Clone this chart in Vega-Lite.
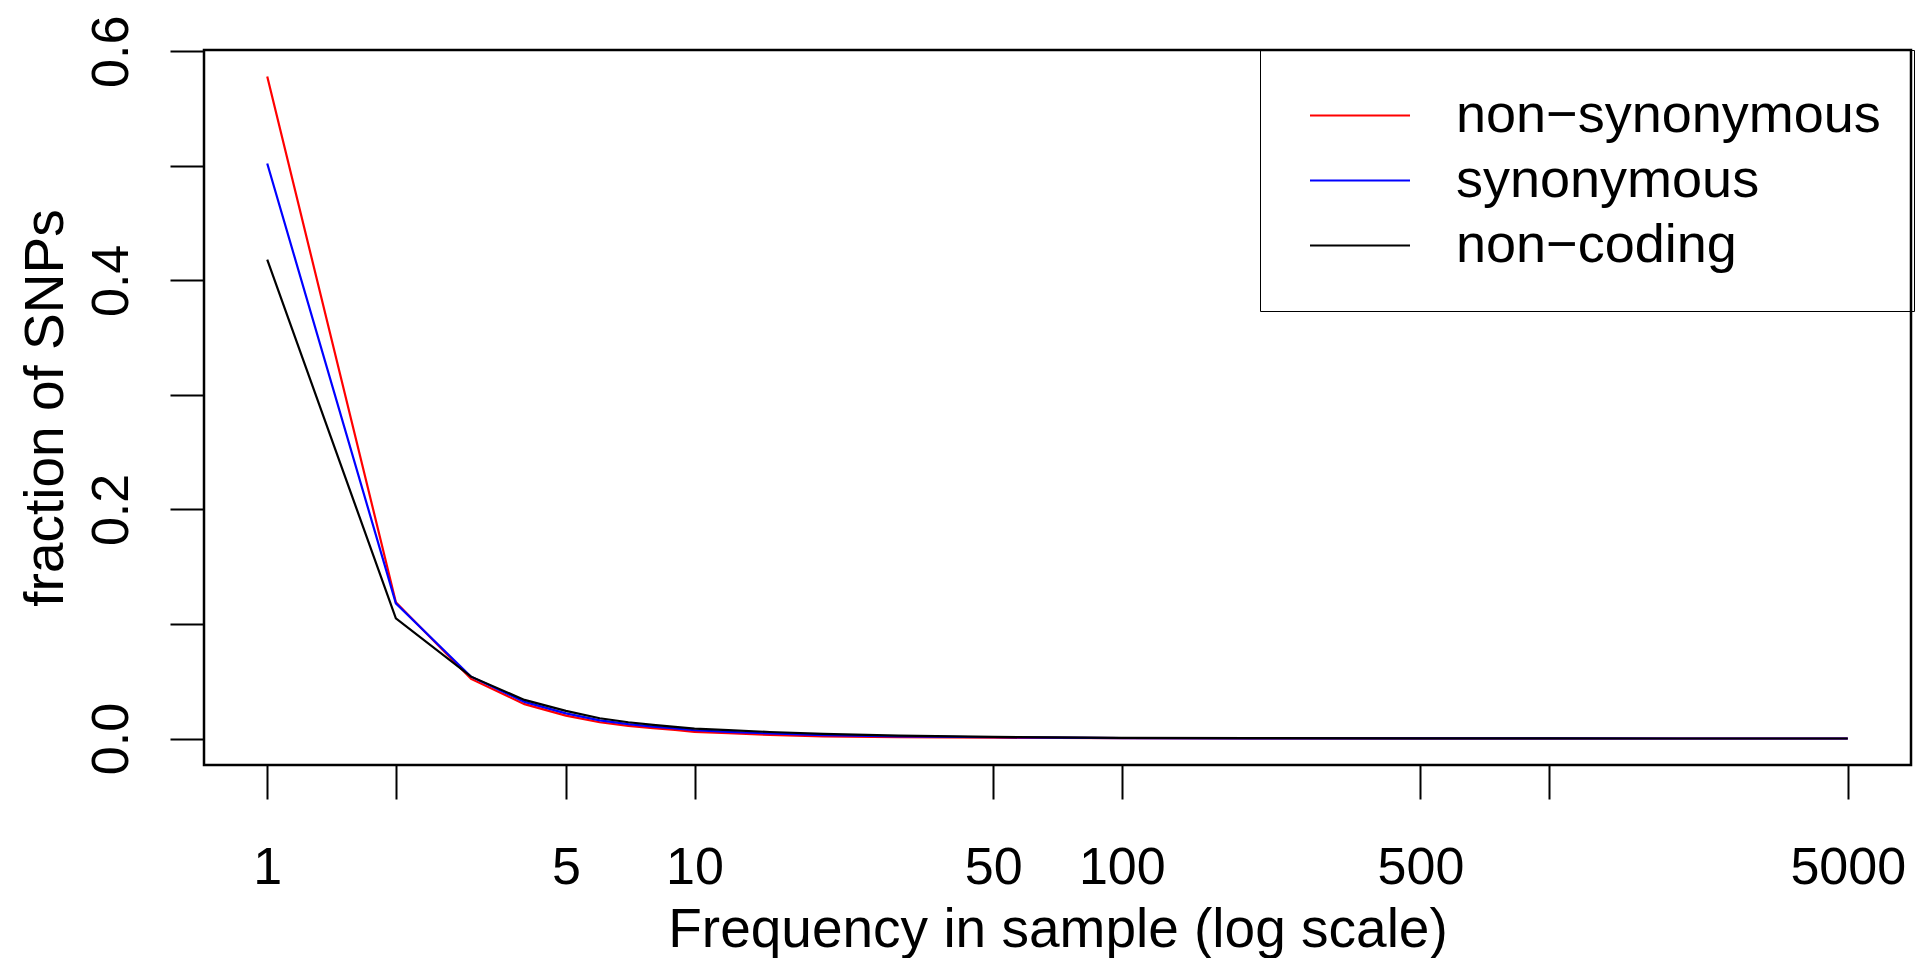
{
  "$schema": "https://vega.github.io/schema/vega-lite/v6.json",
  "autosize": {"type": "none"},
  "width": 1707,
  "height": 715,
  "padding": {"left": 204, "top": 50, "right": 8, "bottom": 193},
  "background": "white",
  "config": {
    "font": "Liberation Sans",
    "view": {"stroke": "black", "strokeWidth": 2.5},
    "axis": {"grid": false, "domain": false, "tickColor": "black", "tickWidth": 2, "tickSize": 34, "labelColor": "black", "titleColor": "black", "labelFont": "Liberation Sans", "titleFont": "Liberation Sans", "titleFontWeight": "normal"}
  },
  "data": {"values": [
    {"freq": 1, "type": "non−synonymous", "frac": 0.578},
    {"freq": 2, "type": "non−synonymous", "frac": 0.119},
    {"freq": 3, "type": "non−synonymous", "frac": 0.052},
    {"freq": 4, "type": "non−synonymous", "frac": 0.030},
    {"freq": 5, "type": "non−synonymous", "frac": 0.020},
    {"freq": 6, "type": "non−synonymous", "frac": 0.0142},
    {"freq": 7, "type": "non−synonymous", "frac": 0.011},
    {"freq": 8, "type": "non−synonymous", "frac": 0.009},
    {"freq": 9, "type": "non−synonymous", "frac": 0.0075},
    {"freq": 10, "type": "non−synonymous", "frac": 0.0058},
    {"freq": 12, "type": "non−synonymous", "frac": 0.0046},
    {"freq": 15, "type": "non−synonymous", "frac": 0.0032},
    {"freq": 20, "type": "non−synonymous", "frac": 0.0019},
    {"freq": 30, "type": "non−synonymous", "frac": 0.0012},
    {"freq": 50, "type": "non−synonymous", "frac": 0.0007},
    {"freq": 70, "type": "non−synonymous", "frac": 0.0005},
    {"freq": 100, "type": "non−synonymous", "frac": 0.0003},
    {"freq": 200, "type": "non−synonymous", "frac": 0.0001},
    {"freq": 500, "type": "non−synonymous", "frac": 0.00005},
    {"freq": 1000, "type": "non−synonymous", "frac": 0.00003},
    {"freq": 2000, "type": "non−synonymous", "frac": 0.00001},
    {"freq": 5000, "type": "non−synonymous", "frac": 0},
    {"freq": 1, "type": "synonymous", "frac": 0.502},
    {"freq": 2, "type": "synonymous", "frac": 0.118},
    {"freq": 3, "type": "synonymous", "frac": 0.054},
    {"freq": 4, "type": "synonymous", "frac": 0.032},
    {"freq": 5, "type": "synonymous", "frac": 0.022},
    {"freq": 6, "type": "synonymous", "frac": 0.0158},
    {"freq": 7, "type": "synonymous", "frac": 0.0126},
    {"freq": 8, "type": "synonymous", "frac": 0.0104},
    {"freq": 9, "type": "synonymous", "frac": 0.0088},
    {"freq": 10, "type": "synonymous", "frac": 0.0072},
    {"freq": 12, "type": "synonymous", "frac": 0.0058},
    {"freq": 15, "type": "synonymous", "frac": 0.0044},
    {"freq": 20, "type": "synonymous", "frac": 0.003},
    {"freq": 30, "type": "synonymous", "frac": 0.0019},
    {"freq": 50, "type": "synonymous", "frac": 0.0011},
    {"freq": 70, "type": "synonymous", "frac": 0.0007},
    {"freq": 100, "type": "synonymous", "frac": 0.0004},
    {"freq": 200, "type": "synonymous", "frac": 0.0002},
    {"freq": 500, "type": "synonymous", "frac": 0.0001},
    {"freq": 1000, "type": "synonymous", "frac": 0.00005},
    {"freq": 2000, "type": "synonymous", "frac": 0.00003},
    {"freq": 5000, "type": "synonymous", "frac": 0},
    {"freq": 1, "type": "non−coding", "frac": 0.418},
    {"freq": 2, "type": "non−coding", "frac": 0.105},
    {"freq": 3, "type": "non−coding", "frac": 0.054},
    {"freq": 4, "type": "non−coding", "frac": 0.0337},
    {"freq": 5, "type": "non−coding", "frac": 0.0241},
    {"freq": 6, "type": "non−coding", "frac": 0.0177},
    {"freq": 7, "type": "non−coding", "frac": 0.0142},
    {"freq": 8, "type": "non−coding", "frac": 0.0119},
    {"freq": 9, "type": "non−coding", "frac": 0.0101},
    {"freq": 10, "type": "non−coding", "frac": 0.0086},
    {"freq": 12, "type": "non−coding", "frac": 0.0073},
    {"freq": 15, "type": "non−coding", "frac": 0.0057},
    {"freq": 20, "type": "non−coding", "frac": 0.004},
    {"freq": 30, "type": "non−coding", "frac": 0.0026},
    {"freq": 50, "type": "non−coding", "frac": 0.0015},
    {"freq": 70, "type": "non−coding", "frac": 0.001},
    {"freq": 100, "type": "non−coding", "frac": 0.0006},
    {"freq": 200, "type": "non−coding", "frac": 0.0003},
    {"freq": 500, "type": "non−coding", "frac": 0.0001},
    {"freq": 1000, "type": "non−coding", "frac": 0.00005},
    {"freq": 2000, "type": "non−coding", "frac": 0.00003},
    {"freq": 5000, "type": "non−coding", "frac": 0}
  ]},
  "encoding": {
    "x": {
      "field": "freq", "type": "quantitative",
      "scale": {"type": "log", "domain": [0.7112, 7030.8], "nice": false, "zero": false},
      "axis": {
        "values": [1, 2, 5, 10, 50, 100, 500, 1000, 5000],
        "labelExpr": "datum.value == 2 || datum.value == 1000 ? '' : format(datum.value, 'd')",
        "labelFontSize": 52, "labelBaseline": "alphabetic", "labelPadding": 84, "labelFlush": false, "labelOverlap": false,
        "title": "Frequency in sample (log scale)", "titleFontSize": 55,
        "titleX": 853.5, "titleY": 181, "titleBaseline": "alphabetic", "titleAlign": "center"
      }
    },
    "y": {
      "field": "frac", "type": "quantitative",
      "scale": {"domain": [-0.02312, 0.60112], "nice": false, "zero": false},
      "axis": {
        "values": [0, 0.1, 0.2, 0.3, 0.4, 0.5, 0.6],
        "labelExpr": "round(datum.value * 10) % 2 == 0 ? format(datum.value, '.1f') : ''",
        "labelFontSize": 52, "labelAngle": -90, "labelAlign": "center", "labelBaseline": "alphabetic", "labelPadding": 43, "labelFlush": false, "labelOverlap": false,
        "title": "fraction of SNPs", "titleFontSize": 55, "titleAngle": -90,
        "titleX": -142, "titleY": 357.5, "titleBaseline": "alphabetic", "titleAlign": "center"
      }
    },
    "color": {
      "field": "type", "type": "nominal",
      "scale": {"domain": ["non−synonymous", "synonymous", "non−coding"], "range": ["#FF0000", "#0000FF", "#000000"]},
      "legend": {
        "title": null, "orient": "none", "legendX": 1056, "legendY": 0,
        "strokeColor": "black", "padding": 33,
        "symbolType": "M-5,0H5", "symbolSize": 400, "symbolStrokeWidth": 2, "symbolOffset": 40,
        "labelFontSize": 54, "labelColor": "black", "labelOffset": 69, "labelLimit": 1000,
        "clipHeight": 65, "rowPadding": 0
      }
    }
  },
  "layer": [
    {"transform": [{"filter": "datum.type == 'non−synonymous'"}], "mark": {"type": "line", "strokeWidth": 2.2}},
    {"transform": [{"filter": "datum.type == 'synonymous'"}], "mark": {"type": "line", "strokeWidth": 2.2}},
    {"transform": [{"filter": "datum.type == 'non−coding'"}], "mark": {"type": "line", "strokeWidth": 2.2}}
  ]
}
